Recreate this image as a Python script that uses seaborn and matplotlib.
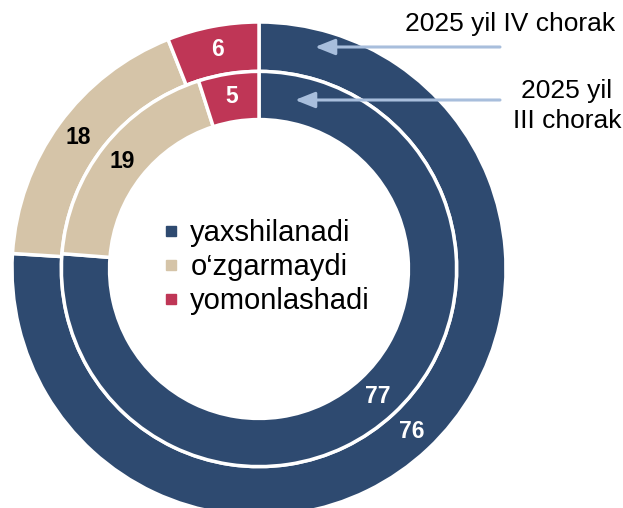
import matplotlib
matplotlib.use("Agg")
import matplotlib.pyplot as plt
from matplotlib.lines import Line2D
import seaborn as sns
import numpy as np

# ---------------------------
# data
# ---------------------------
categories = ["yaxshilanadi", "o\u2018zgarmaydi", "yomonlashadi"]
q4_values = [76, 18, 6]   # outer ring, 2025 yil IV chorak
q3_values = [77, 19, 5]   # inner ring, 2025 yil III chorak
ring_names = ["2025 yil IV chorak", "2025 yil\nIII chorak"]

colors = ["#2E4A70", "#D5C4A8", "#BF3656"]
label_colors = ["white", "black", "white"]

sns.set_theme(style="white")
plt.rcParams["font.family"] = ["Liberation Sans", "DejaVu Sans"]
plt.rcParams["text.color"] = "black"

W, H = 623, 508
fig = plt.figure(figsize=(W / 100, H / 100), dpi=100)
ax = fig.add_axes([0, 0, 1, 1])

# pie centre in pixels and outer radius
cx, cy, R = 259, 269, 247

wp = dict(edgecolor="white", linewidth=2.5)
outer, _ = ax.pie(q4_values, radius=1.0, startangle=90, counterclock=False,
                  colors=colors, wedgeprops=dict(width=0.2, **wp))
inner, _ = ax.pie(q3_values, radius=0.8, startangle=90, counterclock=False,
                  colors=colors, wedgeprops=dict(width=0.195, **wp))


def put_labels(wedges, values, r):
    for w, v, c in zip(wedges, values, label_colors):
        ang = np.deg2rad((w.theta1 + w.theta2) / 2)
        ax.text(r * np.cos(ang), r * np.sin(ang), str(v), ha="center", va="center",
                fontsize=16.5, fontweight="bold", color=c)


put_labels(outer, q4_values, 0.905)
put_labels(inner, q3_values, 0.705)

ax.set_xlim(-cx / R, (W - cx) / R)
ax.set_ylim(-(H - cy) / R, cy / R)
ax.set_aspect("auto")
ax.axis("off")

# legend in the hole
handles = [Line2D([], [], marker="s", linestyle="none", markersize=7.5,
                  markerfacecolor=c, markeredgecolor=c) for c in colors]
fig.legend(handles, categories, loc="center left",
           bbox_to_anchor=(164 / W, 1 - 267 / H), frameon=False,
           fontsize=21, handlelength=0.5, handletextpad=0.4,
           labelspacing=0.2, borderaxespad=0, borderpad=0, labelcolor="black")

# ring callouts
arrow_c = "#A8BEDC"
fig.text(510 / W, 1 - 24 / H, ring_names[0], ha="center", va="center", fontsize=19)
fig.text(567 / W, 1 - 106 / H, ring_names[1], ha="center", va="center",
         fontsize=19, linespacing=1.3)
for y0, x_tip in [(47, 315), (100, 295)]:
    ax.annotate("", xy=(x_tip / W, 1 - y0 / H), xycoords="figure fraction",
                xytext=(500 / W, 1 - y0 / H), textcoords="figure fraction",
                arrowprops=dict(arrowstyle="-|>,head_length=0.6,head_width=0.24",
                                color=arrow_c, lw=2.2, mutation_scale=20,
                                shrinkA=0, shrinkB=0))

fig.savefig("out.png", dpi=100)
